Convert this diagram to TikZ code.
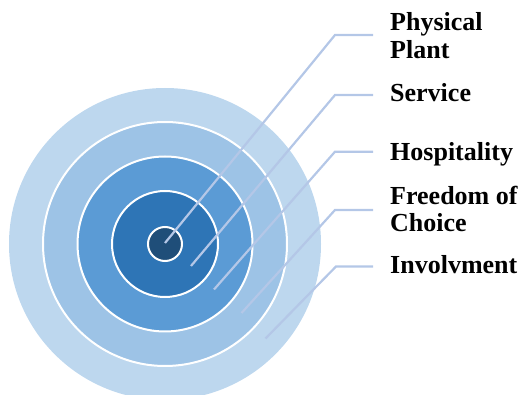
\documentclass[tikz,border=0pt]{standalone}
\usepackage{fontspec}
\setmainfont{Liberation Serif}
\definecolor{ringA}{HTML}{BDD7EE}
\definecolor{ringB}{HTML}{9DC3E6}
\definecolor{ringC}{HTML}{5B9BD5}
\definecolor{ringD}{HTML}{2E75B6}
\definecolor{ringE}{HTML}{1F4E79}
\definecolor{leadcol}{HTML}{B4C7E7}
\tikzset{
  ring/.style={fill=#1, draw=white, line width=2pt},
  lead/.style={draw=leadcol, line width=2.2pt},
  lab/.style={anchor=base west, inner xsep=17pt, inner ysep=0pt, align=left,
    font=\bfseries\fontsize{26}{27.6}\selectfont}
}
\begin{document}
\begin{tikzpicture}[x=1pt,y=-1pt]
    \useasboundingbox (0,0) rectangle (525,395);
    \coordinate (O) at (165,244);
    \fill[ringA] (O) circle (156pt);
    \path[ring=ringB] (O) circle (122pt);
    \path[ring=ringC] (O) circle (87.5pt);
    \path[ring=ringD] (O) circle (53pt);
    \path[ring=ringE] (O) circle (17pt);
    \coordinate (sA) at (165,243);
    \coordinate (sB) at (191,266);
    \coordinate (sC) at (214,289.5);
    \coordinate (sD) at (241.5,313);
    \coordinate (sE) at (265.5,338.5);
    \coordinate (kA) at (335,35);
    \coordinate (kB) at (335,95);
    \coordinate (kC) at (335,151.7);
    \coordinate (kD) at (335,210);
    \coordinate (kE) at (336,266.5);
    \node[lab] (lA) at (373,58.3) {Physical\\Plant};
    \node[lab] (lB) at (373,101.7) {Service};
    \node[lab] (lC) at (373,160.7) {Hospitality};
    \node[lab] (lD) at (373,231.7) {Freedom of\\Choice};
    \node[lab] (lE) at (373,273.3) {Involvment};
    \foreach \i in {A,B,C,D,E}
        \draw[lead] (s\i) -- (k\i) -- (k\i -| l\i.west);
\end{tikzpicture}
\end{document}
